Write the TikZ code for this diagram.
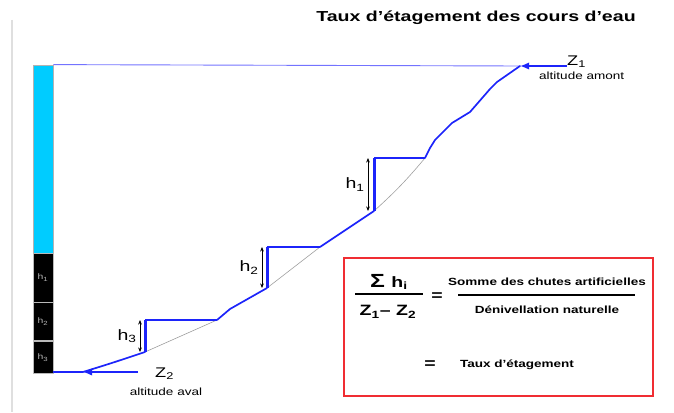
\documentclass[tikz,border=0pt]{standalone}
\usepackage{fontspec}
\setmainfont{Liberation Sans}
\usetikzlibrary{arrows.meta,positioning,calc}

\definecolor{riverblue}{RGB}{28,36,250}
\definecolor{poolcyan}{RGB}{0,204,255}
\definecolor{framered}{RGB}{240,45,50}

\newcommand{\wide}[2][1.3]{\scalebox{#1}[1]{#2}}
\newcommand{\fs}[1]{\fontsize{#1}{#1}\selectfont}

\begin{document}
\begin{tikzpicture}[
  x=1pt, y=-1pt,
  >={Stealth[length=2mm]},
  river/.style={riverblue, line width=1.7pt, line join=round, line cap=round},
  fall/.style={riverblue, line width=3pt},
  pool/.style={riverblue, line width=1.7pt},
  slope/.style={gray!75, line width=0.6pt},
  drop/.style={{Stealth[length=1.6mm,width=1.3mm]}-{Stealth[length=1.6mm,width=1.3mm]}, line width=0.7pt},
  seg/.style={draw=gray!55, fill=black, line width=0.8pt, minimum width=20pt, inner sep=0pt, text=white!70!black, font=\fs{8}},
  hlbl/.style={font=\fs{15}, inner sep=0pt},
  zlbl/.style={font=\fs{14}, inner sep=0pt},
  note/.style={font=\fs{10.4}, inner sep=0pt},
  eq/.style={font=\bfseries\fs{10.4}, inner sep=0pt},
  big/.style={font=\bfseries\fs{15}, inner sep=0pt},
  zarrow/.style={->, riverblue, line width=1.6pt, >={Latex[length=3.2mm,width=2.6mm]}},
]
\useasboundingbox (0,0) rectangle (674,412);

% ---------------- title and frame ----------------
\draw[gray!25, line width=1.5pt] (12,20) -- (12,412);
\node[font=\bfseries\fs{14.5}] (title) at (476,18) {\wide[1.35]{Taux d'étagement des cours d'eau}};

% ---------------- level bar ----------------
\node[draw=gray!60, fill=poolcyan, line width=0.8pt, minimum width=20pt, minimum height=188pt, inner sep=0pt] (bar) at (43,159) {};
\node[seg, minimum height=49pt] (b1) at (43,277.5) {\wide{h\textsubscript{1}}};
\node[seg, minimum height=38pt, below=0pt of b1] (b2) {\wide{h\textsubscript{2}}};
\node[seg, minimum height=32pt, below=0pt of b2] (b3) {\wide{h\textsubscript{3}}};

% ---------------- river profile ----------------
\coordinate (top) at (520,66);
\coordinate (s1r) at (425,158); \coordinate (s1l) at (374,158); \coordinate (s1b) at (374,211);
\coordinate (s2r) at (320,247); \coordinate (s2l) at (267,247); \coordinate (s2b) at (267,288);
\coordinate (s3r) at (217,320); \coordinate (s3l) at (145,320); \coordinate (s3b) at (145,352);
\coordinate (low) at (83,372);

\draw[blue!55, line width=0.9pt] (bar.north east) -- (top);

% natural slope under each weir
\draw[slope] (s1r) to[bend left=4] (s1b);
\draw[slope] (s2r) -- (s2b);
\draw[slope] (s3r) -- (s3b);

% the river with its weirs
\draw[river] (top) -- (497,82) -- (490,89) -- (470,112) -- (452,123) -- (435,140) -- (430,148) -- (s1r);
\draw[pool] (s1r) -- (s1l);
\draw[fall] (s1l) -- (s1b);
\draw[river] (s1b) -- (350,227) -- (s2r);
\draw[pool] (s2r) -- (s2l);
\draw[fall] (s2l) -- (s2b);
\draw[river] (s2b) -- (230,309) -- (s3r);
\draw[pool] (s3r) -- (s3l);
\draw[fall] (s3l) -- (s3b);
\draw[river] (s3b) .. controls (112,363) .. (low) -- (b3.south east |- low);

% heights of the falls
\draw[drop] ($(s1l)+(-6,0)$) -- node[hlbl, left=3pt] (h1) {\wide{h\textsubscript{1}}} ($(s1b)+(-6,0)$);
\draw[drop] ($(s2l)+(-5,0)$) -- node[hlbl, left=3pt] (h2) {\wide{h\textsubscript{2}}} ($(s2b)+(-5,0)$);
\draw[drop] ($(s3l)+(-5,0)$) -- node[hlbl, left=3pt] (h3) {\wide{h\textsubscript{3}}} ($(s3b)+(-5,0)$);

% ---------------- altitudes ----------------
\node[zlbl, anchor=west] (z1) at (567,62) {\wide{Z\textsubscript{1}}};
\node[note, anchor=north west] (amont) at (539,72) {\wide{altitude amont}};
\draw[zarrow] (z1.west |- top) -- (top);

\coordinate (z2tail) at (138,372);
\node[zlbl, anchor=west] (z2) at (155,374) {\wide{Z\textsubscript{2}}};
\node[note] (aval) at (166,392) {\wide{altitude aval}};
\draw[zarrow] (z2tail) -- (low);

% ---------------- formula ----------------
\node[draw=framered, line width=1.6pt, minimum width=309pt, minimum height=138pt, inner sep=0pt] (frame) at (498.5,327) {};
\node[big] (sumh) at (389,282) {\wide{{\fs{19}Σ}\,\,h\textsubscript{i}}};
\node[big] (zdiff) at (388,312) {\wide{Z\textsubscript{1}– Z\textsubscript{2}}};
\draw[line width=1.5pt] (355,294) -- (423,294);
\node[big] (eq1) at (437,297) {\wide{=}};
\node[eq] (chutes) at (547,282) {\wide{Somme des chutes artificielles}};
\draw[line width=1.2pt] (458,295) -- (635,295);
\node[eq] (deniv) at (547,310) {\wide{Dénivellation naturelle}};
\node[big] (eq2) at (430,365) {\wide{=}};
\node[eq] (taux) at (517,365) {\wide{Taux d'étagement}};
\end{tikzpicture}
\end{document}
